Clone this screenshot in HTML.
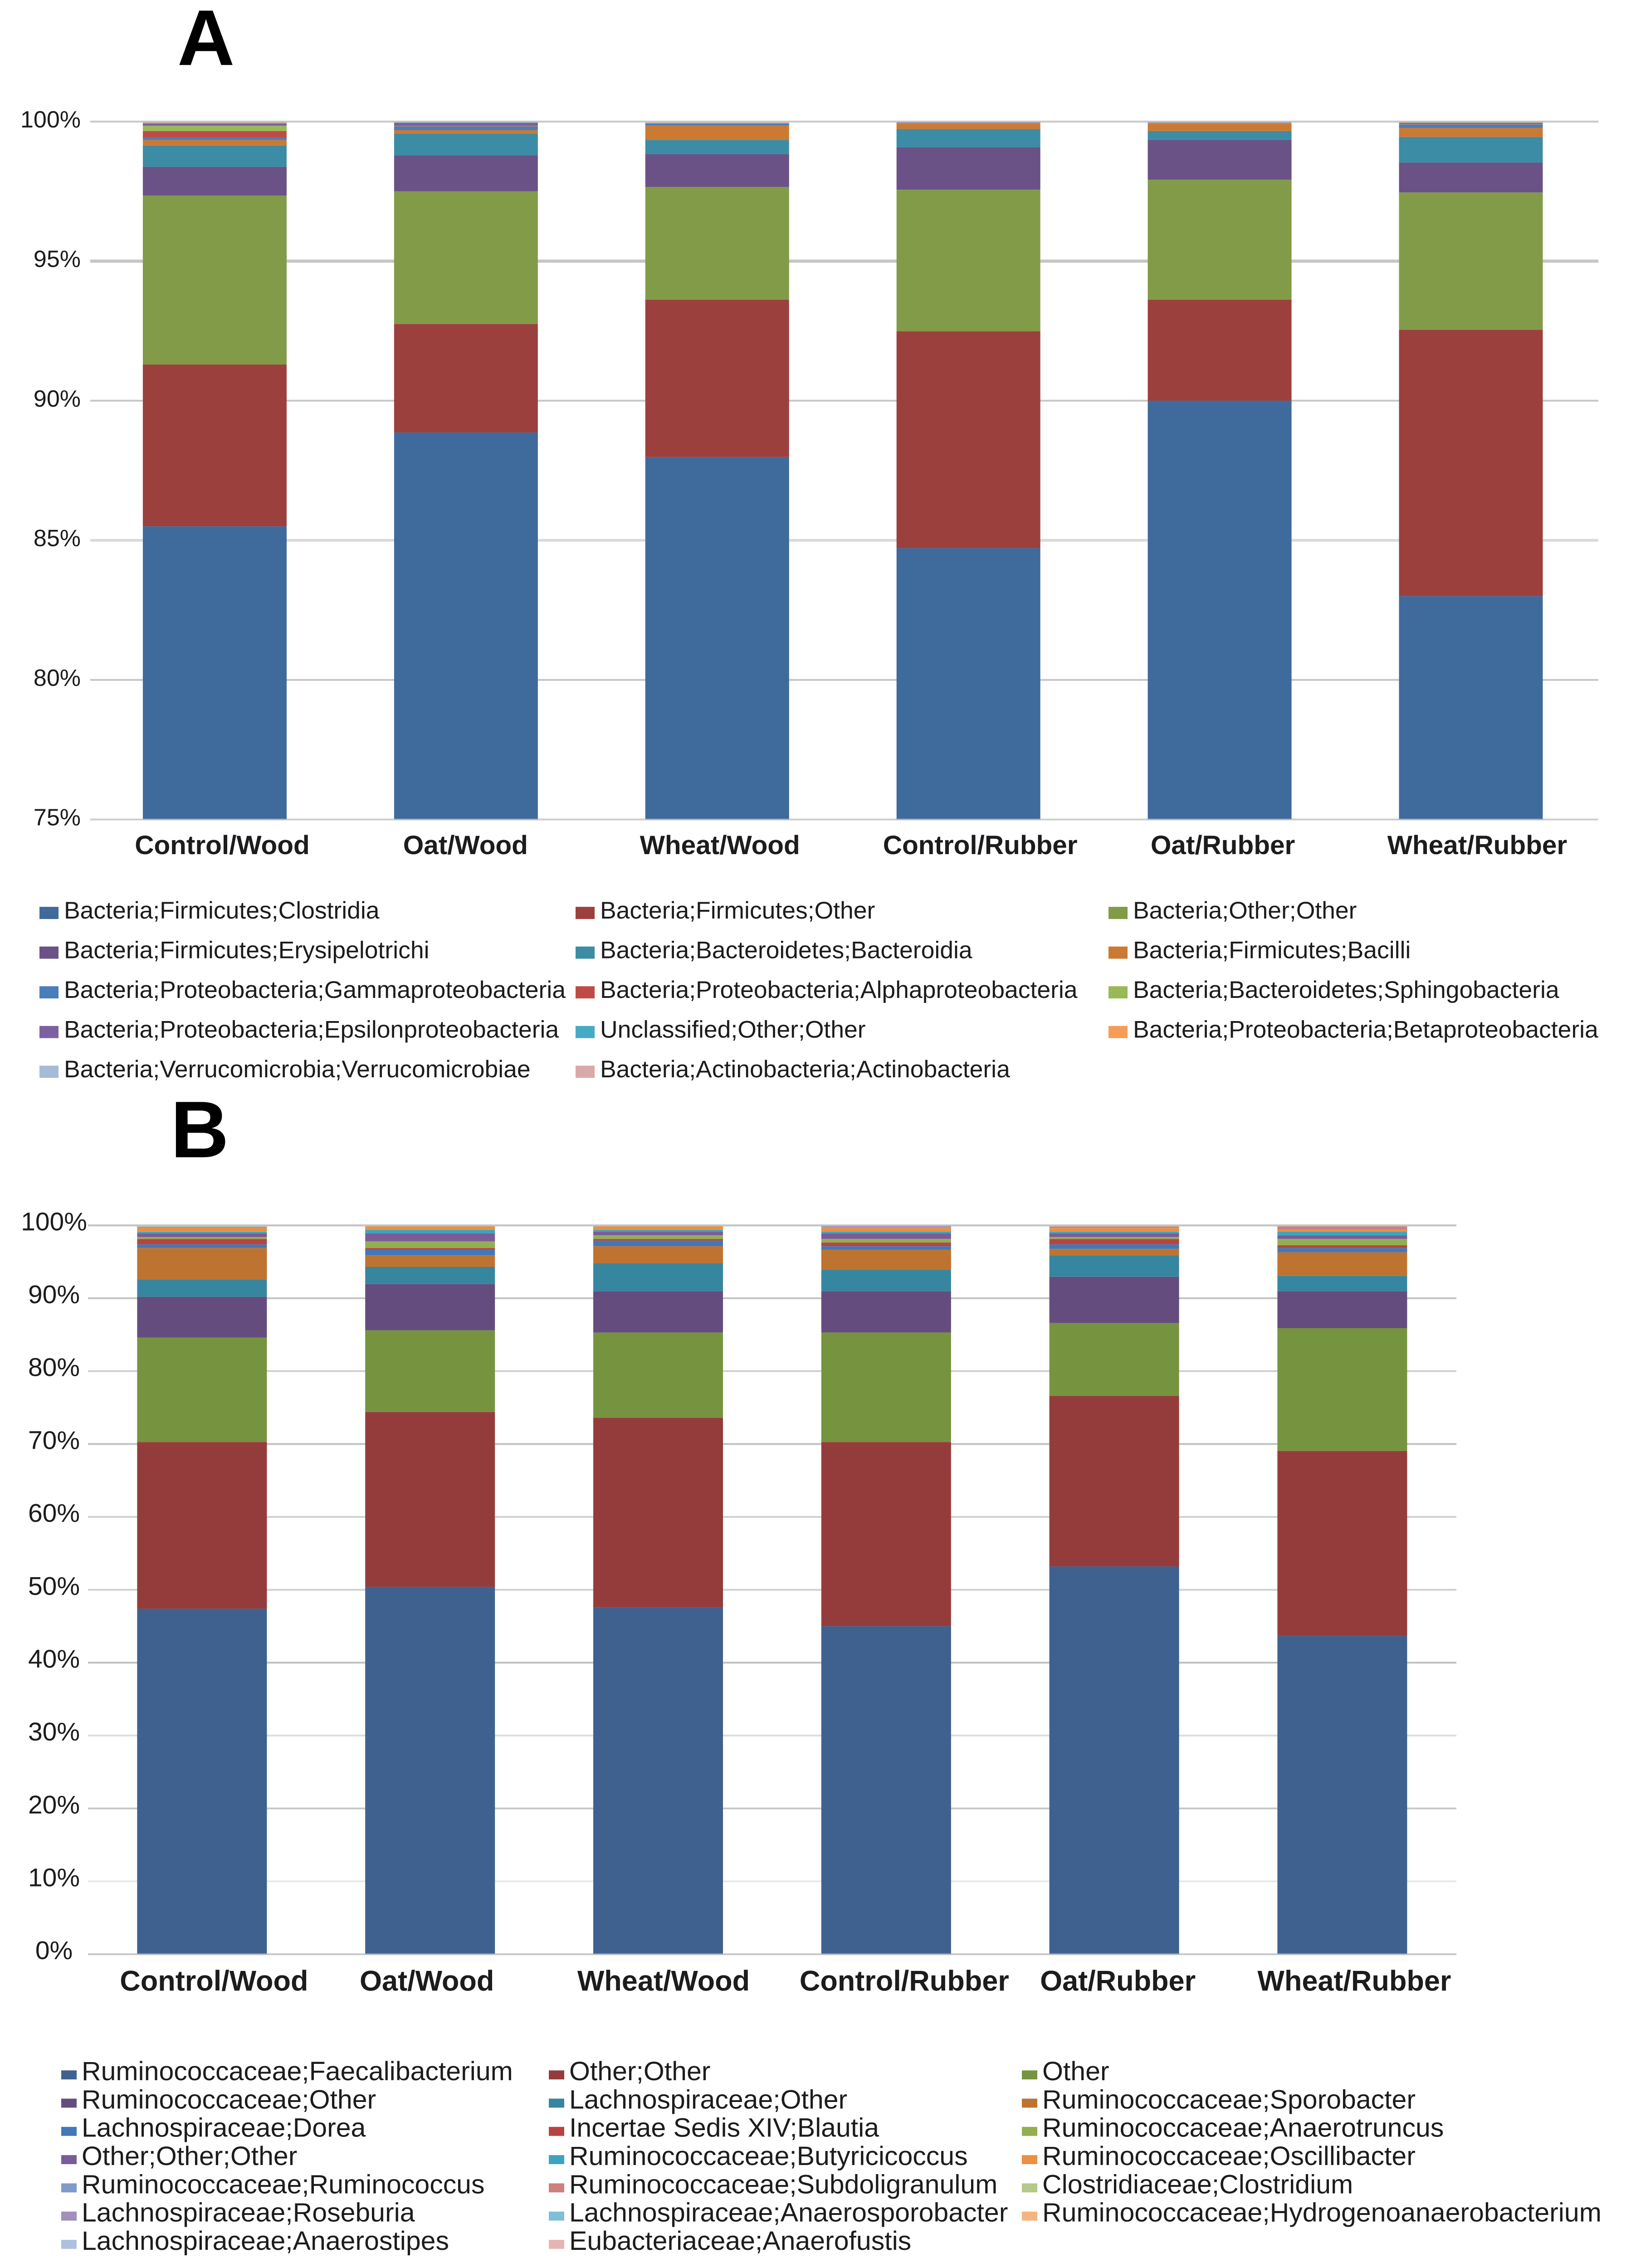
<!DOCTYPE html>
<html lang="en">
<head>
<meta charset="utf-8">
<title>Stacked bar charts of bacterial community composition</title>
<style>
html,body{margin:0;padding:0;background:#fff;width:3607px;height:5027px;overflow:hidden;}
svg{display:block;position:absolute;left:0;top:0;overflow:hidden;font-family:"Liberation Sans",Arial,sans-serif;}
</style>
</head>
<body>
<svg id="figure" xmlns="http://www.w3.org/2000/svg" width="3607" height="5027" viewBox="0 0 3607 5027" preserveAspectRatio="none">
<rect x="0" y="0" width="3607" height="5027" fill="#ffffff"/>
<text x="391" y="144" font-size="175" font-weight="700" fill="#000">A</text>
<text x="376" y="2565" font-size="178" font-weight="700" fill="#000">B</text>
<g id="chart-a"></g>
<g id="chart-b"></g>
</svg>
<script>
const categories = ['Control/Wood','Oat/Wood','Wheat/Wood','Control/Rubber','Oat/Rubber','Wheat/Rubber'];

const tickValuesA = [100,95,90,85,80,75];
const tickLabelsA = ['100%','95%','90%','85%','80%','75%'];
const seriesNamesA = [
 'Bacteria;Firmicutes;Clostridia','Bacteria;Firmicutes;Other','Bacteria;Other;Other',
 'Bacteria;Firmicutes;Erysipelotrichi','Bacteria;Bacteroidetes;Bacteroidia','Bacteria;Firmicutes;Bacilli',
 'Bacteria;Proteobacteria;Gammaproteobacteria','Bacteria;Proteobacteria;Alphaproteobacteria','Bacteria;Bacteroidetes;Sphingobacteria',
 'Bacteria;Proteobacteria;Epsilonproteobacteria','Unclassified;Other;Other','Bacteria;Proteobacteria;Betaproteobacteria',
 'Bacteria;Verrucomicrobia;Verrucomicrobiae','Bacteria;Actinobacteria;Actinobacteria'];
const clostridia = [85.5,88.86,87.98,84.72,90,83];
const firmicutesOther = [5.8,3.89,5.64,7.77,3.62,9.54];
const bacteriaOther = [6.05,4.75,4.04,5.07,4.3,4.92];
const erysipelotrichi = [1.03,1.29,1.17,1.52,1.42,1.07];
const bacteroidia = [0.76,0.77,0.51,0.65,0.32,0.92];
const bacilli = [0.2,0.13,0.52,0.19,0.26,0.32];
const gammaproteobacteria = [0.09,0.13,0.07,0.01,0.01,0.12];
const alphaproteobacteria = [0.23,0.01,0.005,0.01,0.01,0.01];
const sphingobacteria = [0.19,0.01,0.005,0.01,0.01,0.01];
const epsilonproteobacteria = [0.07,0.11,0.005,0.02,0.01,0.04];
const unclassified = [0.03,0.02,0.005,0.005,0.01,0.01];
const betaproteobacteria = [0.02,0.01,0.005,0.005,0.01,0.02];
const verrucomicrobiae = [0.02,0.01,0.005,0.01,0.01,0.01];
const actinobacteria = [0.01,0.01,0.04,0.01,0.01,0.01];
const seriesA = [clostridia,firmicutesOther,bacteriaOther,erysipelotrichi,bacteroidia,bacilli,gammaproteobacteria,alphaproteobacteria,sphingobacteria,epsilonproteobacteria,unclassified,betaproteobacteria,verrucomicrobiae,actinobacteria];

const tickValuesB = [100,90,80,70,60,50,40,30,20,10,0];
const tickLabelsB = ['100%','90%','80%','70%','60%','50%','40%','30%','20%','10%','0%'];
const seriesNamesB = [
 'Ruminococcaceae;Faecalibacterium','Other;Other','Other',
 'Ruminococcaceae;Other','Lachnospiraceae;Other','Ruminococcaceae;Sporobacter',
 'Lachnospiraceae;Dorea','Incertae Sedis XIV;Blautia','Ruminococcaceae;Anaerotruncus',
 'Other;Other;Other','Ruminococcaceae;Butyricicoccus','Ruminococcaceae;Oscillibacter',
 'Ruminococcaceae;Ruminococcus','Ruminococcaceae;Subdoligranulum','Clostridiaceae;Clostridium',
 'Lachnospiraceae;Roseburia','Lachnospiraceae;Anaerosporobacter','Ruminococcaceae;Hydrogenoanaerobacterium',
 'Lachnospiraceae;Anaerostipes','Eubacteriaceae;Anaerofustis'];
const faecalibacterium = [47.4,50.4,47.6,45,53.2,43.65];
const otherOther = [22.87,24,26,25.27,23.4,25.4];
const otherTop = [14.33,11.2,11.7,15.03,10,16.85];
const ruminoOther = [5.6,6.35,5.66,5.66,6.35,5.06];
const lachnoOther = [2.4,2.35,3.84,2.94,2.95,2.11];
const sporobacter = [4.3,1.6,2.35,2.76,0.88,3.23];
const dorea = [0.5,0.76,0.75,0.49,0.62,0.6];
const blautia = [0.74,0.24,0.24,0.5,0.74,0.38];
const anaerotruncus = [0.26,0.9,0.5,0.49,0.26,0.86];
const otherOtherOther = [0.5,1.1,0.49,0.76,0.5,0.5];
const butyricicoccus = [0.2,0.48,0.25,0.23,0.23,0.49];
const oscillibacter = [0.55,0.5,0.5,0.5,0.5,0.25];
const ruminococcus = [0.15,0.01,0.01,0.01,0.01,0.01];
const subdoligranulum = [0.02,0.02,0.02,0.01,0.2,0.49];
const clostridium = [0.13,0.01,0.01,0.01,0.11,0.07];
const roseburia = [0.01,0.01,0.01,0.3,0.01,0.01];
const anaerosporobacter = [0.01,0.01,0.01,0.01,0.01,0.01];
const hydrogenoanaerobacterium = [0.01,0.01,0.01,0.01,0.01,0.01];
const anaerostipes = [0.01,0.01,0.01,0.01,0.01,0.01];
const anaerofustis = [0.01,0.04,0.04,0.01,0.01,0.01];
const seriesB = [faecalibacterium,otherOther,otherTop,ruminoOther,lachnoOther,sporobacter,dorea,blautia,anaerotruncus,otherOtherOther,butyricicoccus,oscillibacter,ruminococcus,subdoligranulum,clostridium,roseburia,anaerosporobacter,hydrogenoanaerobacterium,anaerostipes,anaerofustis];

const paletteA = ['#3f6a9c','#9c403e','#829b48','#6a5287','#3d8ca5','#cb7a33','#4a7ebb','#be4b48','#98b954','#7d60a0','#46aac4','#f59d56','#a7bad8','#d9a9a8'];
const paletteB = ['#3e6190','#943c3c','#76933f','#644d7e','#37869f','#bf7330','#4378b8','#b8443f','#92b050','#7a5c99','#3da3bf','#ea9043','#7c9bcb','#ce7f7e','#b4c98a','#a28fbb','#7fbfd3','#f5b47f','#aec0de','#e4b5b4'];

const SVG_NS = 'http://www.w3.org/2000/svg';

function yScaleA(v){ return 269.4 + (100 - v) * 61.88; }
function yScaleB(v){ return 4331.5 - v * 16.155; }
function xBandA(i){ return 196.5 + 553.9 * (i + 0.5); }
function xBandB(i){ return 194 + 502.8 * (i + 0.5); }

const layoutA = {
  root:'chart-a', prefix:'a', lineLeft:199, lineRight:3524, barWidth:317, yMin:75,
  gridWidths:[4,7,4,6,4,4],
  gridColors:['#cccccc','#c6c6c6','#c6c6c6','#dadada','#c6c6c6','#d2d2d2'],
  tickAnchor:'end', tickX:178, tickSize:52, tickDy:13,
  catSize:58.5, catY:1893, catNudge:[16.5,-1,6,26,7,14],
  legendSize:53.5, swatchW:42, swatchH:27, swatchDy:-26, textGap:54,
  legendCols:[87,1269,2444], legendY:2036, legendStep:88
};
const layoutB = {
  root:'chart-b', prefix:'b', lineLeft:194, lineRight:3211, barWidth:286, yMin:0,
  gridWidths:[4,4,4,4,4,4,4,4,4,4,4],
  gridColors:['#bfbfbf','#c4c4c4','#d0d0d0','#c0c0c0','#d0d0d0','#d0d0d0','#bfbfbf','#dcdcdc','#c8c8c8','#e8e8e8','#c8c8c8'],
  tickAnchor:'middle', tickX:119, tickSize:57, tickDy:11,
  catSize:63, catY:4412, catNudge:[26.5,-7,12,40,8,26.5],
  legendSize:59, swatchW:34, swatchH:20, swatchDy:-22, textGap:45,
  legendCols:[135,1210,2253], legendY:4611, legendStep:62.6
};

function makeLabel(parent, x, y, size, anchor, weight, str){
  const t = document.createElementNS(SVG_NS, 'text');
  t.setAttribute('x', x);
  t.setAttribute('y', y);
  t.setAttribute('font-size', size);
  t.setAttribute('text-anchor', anchor);
  t.setAttribute('font-weight', weight);
  t.setAttribute('fill', '#1c1c1c');
  t.textContent = str;
  parent.appendChild(t);
  return t;
}

function makeRect(parent, x, y, w, h, fill){
  const r = document.createElementNS(SVG_NS, 'rect');
  r.setAttribute('x', x);
  r.setAttribute('y', y);
  r.setAttribute('width', w);
  r.setAttribute('height', h);
  r.setAttribute('fill', fill);
  parent.appendChild(r);
  return r;
}

function drawChart(L, yScale, xBand, ticks, tickLabels, series, names, palette){
  const root = document.getElementById(L.root);

  ticks.forEach(function(tv, k){
    const y = yScale(tv);
    const gl = makeRect(root, L.lineLeft, y - L.gridWidths[k] / 2, L.lineRight - L.lineLeft, L.gridWidths[k], L.gridColors[k]);
    
    
    const tl = makeLabel(root, L.tickX, y + L.tickDy, L.tickSize, L.tickAnchor, 400, tickLabels[k]);
    
    
  });

  categories.forEach(function(cat, i){
    let cum = 0;
    series.forEach(function(vals, s){
      const lo = Math.max(cum, L.yMin);
      const hi = Math.max(cum + vals[i], L.yMin);
      cum += vals[i];
      if (hi <= lo) return;
      const seg = makeRect(root, xBand(i) - L.barWidth / 2, yScale(hi), L.barWidth, yScale(lo) - yScale(hi), palette[s]);
      
      
    });
    const cl = makeLabel(root, xBand(i) + L.catNudge[i], L.catY, L.catSize, 'middle', 700, cat);
    
    
  });

  const topLine = makeRect(root, L.lineLeft, yScale(100) - 1.5, L.lineRight - L.lineLeft, 4, 'rgba(200,200,200,0.5)');
  
  
  const baseLine = makeRect(root, L.lineLeft, yScale(L.yMin) - 2, L.lineRight - L.lineLeft, 4, 'rgba(200,202,202,0.55)');
  
  

  names.forEach(function(nm, idx){
    const col = idx % 3;
    const row = Math.floor(idx / 3);
    const baseY = L.legendY + row * L.legendStep;
    const sw = makeRect(root, L.legendCols[col], baseY + L.swatchDy, L.swatchW, L.swatchH, palette[idx]);
    
    
    const lt = makeLabel(root, L.legendCols[col] + L.textGap, baseY, L.legendSize, 'start', 400, nm);
    
    
  });
}

drawChart(layoutA, yScaleA, xBandA, tickValuesA, tickLabelsA, seriesA, seriesNamesA, paletteA);
drawChart(layoutB, yScaleB, xBandB, tickValuesB, tickLabelsB, seriesB, seriesNamesB, paletteB);

const viewportHeight = window.innerHeight;
if (viewportHeight >= 4500 && viewportHeight < 5027) {
  document.getElementById('figure').setAttribute('height', viewportHeight);
  document.documentElement.style.height = viewportHeight + 'px';
  document.body.style.height = viewportHeight + 'px';
}
</script>
</body>
</html>
